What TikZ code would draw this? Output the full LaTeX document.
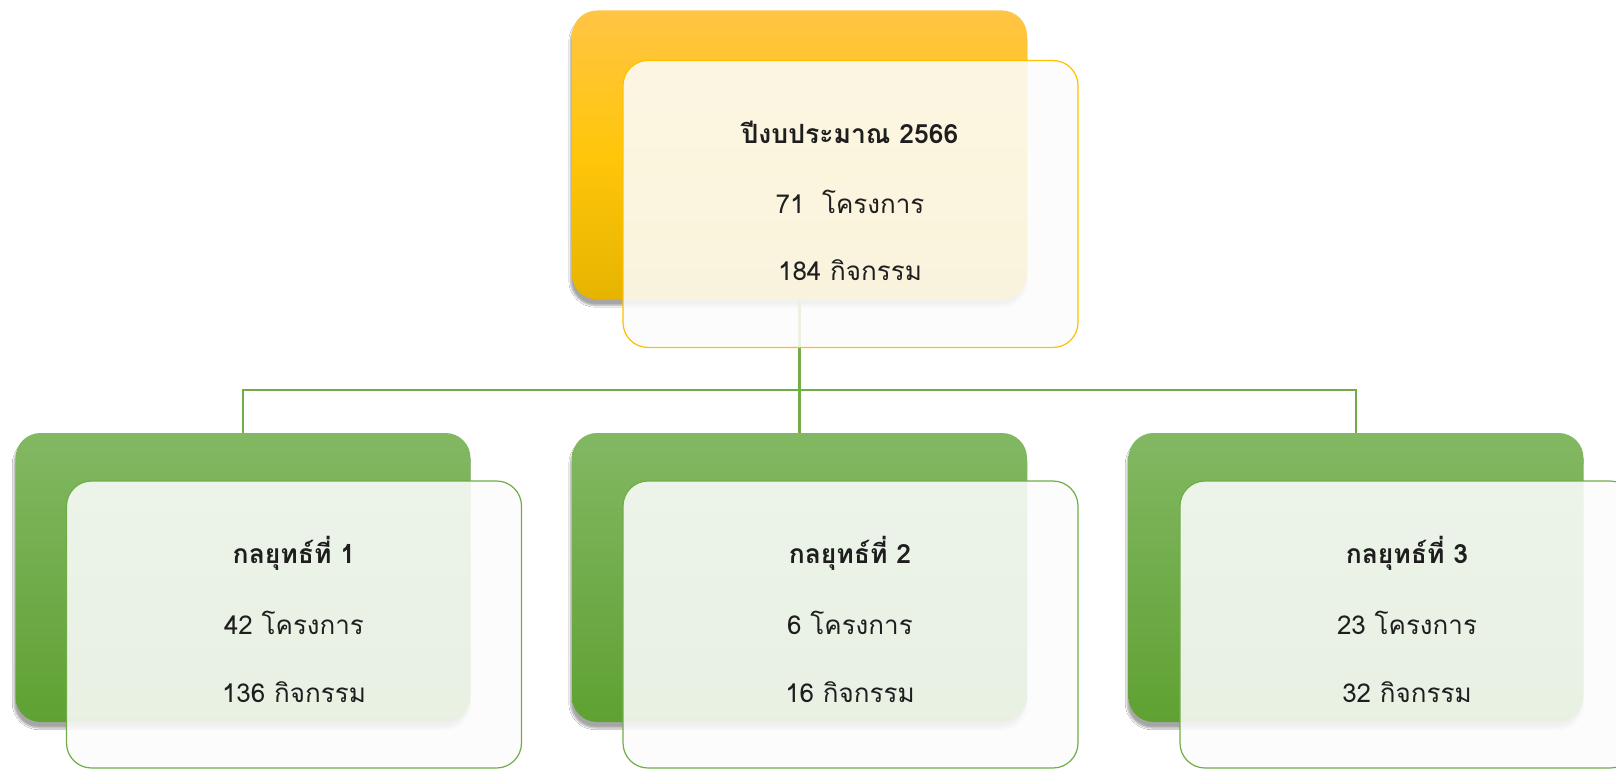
\documentclass[tikz,border=0pt]{standalone}
\usepackage{fontspec}
\newfontfamily\thaifont[Script=Thai]{Loma}
\usetikzlibrary{shadows.blur}
\definecolor{ygTop}{HTML}{FFC545}
\definecolor{ygMid}{HTML}{FFC60A}
\definecolor{ygBot}{HTML}{E6B400}
\definecolor{ggTop}{HTML}{82B863}
\definecolor{ggBot}{HTML}{5FA132}
\definecolor{yline}{HTML}{FFC000}
\definecolor{gline}{HTML}{70AD47}
\definecolor{txt}{HTML}{1E1E1E}
\tikzset{
  backbox/.style={rounded corners=25pt, minimum width=455pt, minimum height=289pt, inner sep=0pt,
    blur shadow={shadow xshift=-1.5pt, shadow yshift=-6pt, shadow blur steps=6, shadow opacity=35}},
  yback/.style={backbox, top color=ygTop, bottom color=ygBot, middle color=ygMid},
  gback/.style={backbox, top color=ggTop, bottom color=ggBot},
  frontbox/.style={rounded corners=25pt, minimum width=455pt, minimum height=287pt, inner sep=0pt,
    fill=white!99!black, fill opacity=0.88, line width=1.2pt},
  yfront/.style={frontbox, draw=yline},
  gfront/.style={frontbox, draw=gline},
  ttl/.style={font=\thaifont\bfseries\fontsize{26.5}{30}\selectfont, text=txt},
  lbl/.style={font=\thaifont\fontsize{26}{30}\selectfont, text=txt},
  conn/.style={draw=gline, line width=2.6pt}
}
\begin{document}
\begin{tikzpicture}[x=1pt, y=-1pt]
\useasboundingbox (0,0) rectangle (1616,768);
\fill[white] (0,0) rectangle (1616,768);
% back boxes
\node[yback] (top) at (799.5,155) {};
\node[gback] (g1) at (243,577.5) {};
\node[gback] (g2) at (799.5,577.5) {};
\node[gback] (g3) at (1356,577.5) {};
% connectors
\coordinate (bus) at (0,390);
\draw[conn] (top.south) -- (top.south |- bus) -| (g1.north);
\draw[conn] (top.south |- bus) -| (g3.north);
\draw[conn] (top.south |- bus) -- (g2.north);
% front boxes
\node[yfront] (ftop) at (850.5,204) {};
\node[gfront] (f1) at (294,624.5) {};
\node[gfront] (f2) at (850.5,624.5) {};
\node[gfront] (f3) at (1407.5,624.5) {};
% texts
\node[ttl] (t0) at (850,132) {ปีงบประมาณ 2566};
\node[lbl] (t0a) at (850,202) {71\ \ โครงการ};
\node[lbl] (t0b) at (850,270) {184 กิจกรรม};
\node[ttl] (t1) at (294,553) {กลยุทธ์ที่ 1};
\node[lbl] (t1a) at (294,623) {42 โครงการ};
\node[lbl] (t1b) at (294,692) {136 กิจกรรม};
\node[ttl] (t2) at (850,553) {กลยุทธ์ที่ 2};
\node[lbl] (t2a) at (850,623) {6 โครงการ};
\node[lbl] (t2b) at (850,692) {16 กิจกรรม};
\node[ttl] (t3) at (1407,553) {กลยุทธ์ที่ 3};
\node[lbl] (t3a) at (1407,623) {23 โครงการ};
\node[lbl] (t3b) at (1407,692) {32 กิจกรรม};
\end{tikzpicture}
\end{document}
